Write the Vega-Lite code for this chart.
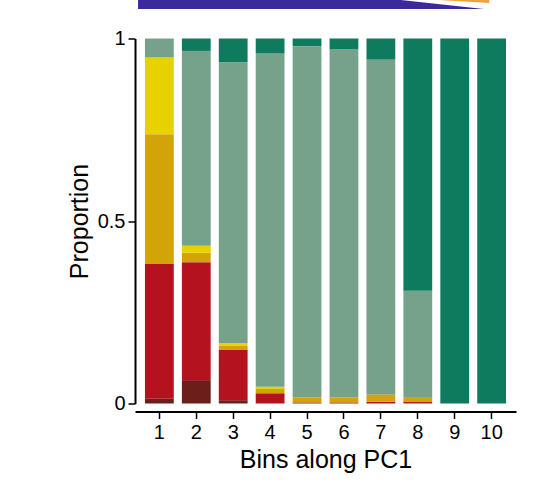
{
  "$schema": "https://vega.github.io/schema/vega-lite/v6.json",
  "autosize": "none",
  "width": 381,
  "height": 365,
  "padding": {"left": 135, "top": 38.5, "right": 25, "bottom": 85.5},
  "background": "white",
  "config": {"font": "Liberation Sans", "view": {"stroke": null}},
  "datasets": {
    "bars": [
      {"bin": "1", "cat": "c1", "ord": 1, "value": 0.014},
      {"bin": "1", "cat": "c2", "ord": 2, "value": 0.368},
      {"bin": "1", "cat": "c3", "ord": 3, "value": 0.356},
      {"bin": "1", "cat": "c4", "ord": 4, "value": 0.210},
      {"bin": "1", "cat": "c5", "ord": 5, "value": 0.052},
      {"bin": "1", "cat": "c6", "ord": 6, "value": 0.0},
      {"bin": "2", "cat": "c1", "ord": 1, "value": 0.064},
      {"bin": "2", "cat": "c2", "ord": 2, "value": 0.323},
      {"bin": "2", "cat": "c3", "ord": 3, "value": 0.026},
      {"bin": "2", "cat": "c4", "ord": 4, "value": 0.019},
      {"bin": "2", "cat": "c5", "ord": 5, "value": 0.534},
      {"bin": "2", "cat": "c6", "ord": 6, "value": 0.034},
      {"bin": "3", "cat": "c1", "ord": 1, "value": 0.009},
      {"bin": "3", "cat": "c2", "ord": 2, "value": 0.139},
      {"bin": "3", "cat": "c3", "ord": 3, "value": 0.011},
      {"bin": "3", "cat": "c4", "ord": 4, "value": 0.006},
      {"bin": "3", "cat": "c5", "ord": 5, "value": 0.770},
      {"bin": "3", "cat": "c6", "ord": 6, "value": 0.065},
      {"bin": "4", "cat": "c1", "ord": 1, "value": 0.0},
      {"bin": "4", "cat": "c2", "ord": 2, "value": 0.028},
      {"bin": "4", "cat": "c3", "ord": 3, "value": 0.012},
      {"bin": "4", "cat": "c4", "ord": 4, "value": 0.006},
      {"bin": "4", "cat": "c5", "ord": 5, "value": 0.913},
      {"bin": "4", "cat": "c6", "ord": 6, "value": 0.041},
      {"bin": "5", "cat": "c2", "ord": 2, "value": 0.003},
      {"bin": "5", "cat": "c3", "ord": 3, "value": 0.014},
      {"bin": "5", "cat": "c5", "ord": 5, "value": 0.962},
      {"bin": "5", "cat": "c6", "ord": 6, "value": 0.021},
      {"bin": "6", "cat": "c2", "ord": 2, "value": 0.003},
      {"bin": "6", "cat": "c3", "ord": 3, "value": 0.014},
      {"bin": "6", "cat": "c5", "ord": 5, "value": 0.953},
      {"bin": "6", "cat": "c6", "ord": 6, "value": 0.030},
      {"bin": "7", "cat": "c2", "ord": 2, "value": 0.005},
      {"bin": "7", "cat": "c3", "ord": 3, "value": 0.020},
      {"bin": "7", "cat": "c5", "ord": 5, "value": 0.917},
      {"bin": "7", "cat": "c6", "ord": 6, "value": 0.058},
      {"bin": "8", "cat": "c2", "ord": 2, "value": 0.004},
      {"bin": "8", "cat": "c3", "ord": 3, "value": 0.014},
      {"bin": "8", "cat": "c5", "ord": 5, "value": 0.291},
      {"bin": "8", "cat": "c6", "ord": 6, "value": 0.691},
      {"bin": "9", "cat": "c6", "ord": 6, "value": 1.0},
      {"bin": "10", "cat": "c6", "ord": 6, "value": 1.0}
    ],
    "blue": [
      {"t": 0.008, "top": 1.106, "bottom": 1.081},
      {"t": 0.693, "top": 1.106, "bottom": 1.081},
      {"t": 0.916, "top": 1.081, "bottom": 1.081}
    ],
    "orange": [
      {"t": 0.79, "top": 1.106, "bottom": 1.106},
      {"t": 0.93, "top": 1.106, "bottom": 1.097}
    ]
  },
  "layer": [
    {
      "data": {"name": "bars"},
      "mark": {"type": "bar"},
      "encoding": {
        "x": {
          "field": "bin", "type": "ordinal",
          "sort": ["1","2","3","4","5","6","7","8","9","10"],
          "scale": {"paddingInner": 0.22, "paddingOuter": 0.27},
          "axis": {
            "title": "Bins along PC1", "titleFontSize": 25, "titleFontWeight": "normal", "titleColor": "black", "titlePadding": 5,
            "labelAngle": 0, "labelFontSize": 20, "labelColor": "black", "labelPadding": 4,
            "offset": 8, "domainColor": "black", "domainWidth": 2, "tickColor": "black", "tickWidth": 1.5, "tickSize": 7
          }
        },
        "y": {
          "field": "value", "type": "quantitative", "stack": "zero",
          "scale": {"domain": [0, 1], "nice": false},
          "axis": {
            "title": "Proportion", "titleFontSize": 25, "titleFontWeight": "normal", "titleColor": "black", "titlePadding": 5,
            "values": [0, 0.5, 1], "labelExpr": "datum.value + ''",
            "labelFontSize": 20, "labelColor": "black", "labelPadding": 3,
            "grid": false, "domainColor": "black", "domainWidth": 2, "tickColor": "black", "tickWidth": 1.5, "tickSize": 7
          }
        },
        "color": {
          "field": "cat", "type": "nominal",
          "scale": {
            "domain": ["c1","c2","c3","c4","c5","c6"],
            "range": ["#6B1E1A","#B5121F","#D2A40A","#E6D200","#76A28C","#0E7A5E"]
          },
          "legend": null
        },
        "order": {"field": "ord", "type": "quantitative", "sort": "ascending"}
      }
    },
    {
      "data": {"name": "blue"},
      "mark": {"type": "area", "color": "#3B2A99"},
      "encoding": {
        "x": {"field": "t", "type": "quantitative", "scale": {"domain": [0, 1], "nice": false, "zero": false}, "axis": null},
        "y": {"field": "top", "type": "quantitative", "scale": {"domain": [0, 1], "nice": false}, "axis": null},
        "y2": {"field": "bottom"}
      }
    },
    {
      "data": {"name": "orange"},
      "mark": {"type": "area", "color": "#F0A040"},
      "encoding": {
        "x": {"field": "t", "type": "quantitative", "scale": {"domain": [0, 1], "nice": false, "zero": false}, "axis": null},
        "y": {"field": "top", "type": "quantitative", "scale": {"domain": [0, 1], "nice": false}, "axis": null},
        "y2": {"field": "bottom"}
      }
    }
  ],
  "resolve": {"scale": {"x": "independent", "y": "independent"}}
}
